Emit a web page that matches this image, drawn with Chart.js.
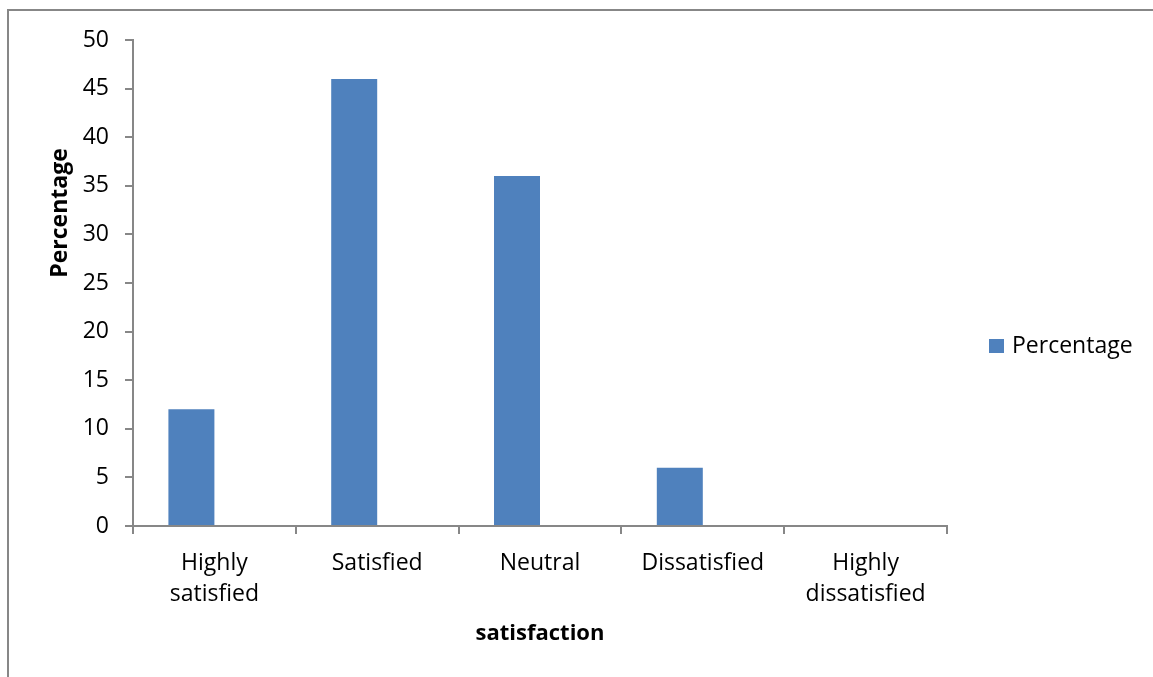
<!DOCTYPE html>
<html>
<head>
<meta charset="utf-8">
<script src="https://cdn.jsdelivr.net/npm/chart.js@4"></script>
<style>
  html, body { margin: 0; padding: 0; background: #fff; }
  #wrap { position: relative; width: 1153px; height: 677px; overflow: hidden; }
  #frame { position: absolute; left: 7px; top: 9px; width: 1200px; height: 700px;
           border-left: 2px solid #878787; border-top: 2px solid #878787; }
  canvas { position: absolute; left: 0; top: 0; }
</style>
</head>
<body>
<div id="wrap">
  <div id="frame"></div>
  <canvas id="chart" width="1153" height="677"></canvas>
</div>
<script>
// Survey results: share of respondents per satisfaction level
const categories = [
  ['Highly', 'satisfied'],
  'Satisfied',
  'Neutral',
  'Dissatisfied',
  ['Highly', 'dissatisfied']
];
const percentageValues = [12, 46, 36, 6, 0];
const blankValues = [0, 0, 0, 0, 0];   // empty companion series, keeps the bars left of centre
const yTicks = [0, 5, 10, 15, 20, 25, 30, 35, 40, 45, 50];

const seriesName = 'Percentage';
const xTitle = 'satisfaction';
const yTitle = 'Percentage';

const barColor = '#4F81BD';
const axisColor = '#878787';
const fontFamily = '"Open Sans", "Noto Sans", sans-serif';

// Axis titles and the legend, drawn beside the plot
const annotations = {
  id: 'annotations',
  afterDraw(chart) {
    const { ctx, chartArea } = chart;
    ctx.save();
    ctx.fillStyle = '#000';
    ctx.font = 'bold 22px ' + fontFamily;
    ctx.textAlign = 'center';
    ctx.textBaseline = 'middle';
    ctx.fillText(xTitle, (chartArea.left + chartArea.right) / 2, 634);

    ctx.save();
    ctx.translate(60, 213);
    ctx.rotate(-Math.PI / 2);
    ctx.font = 'bold 23px ' + fontFamily;
    ctx.fillText(yTitle, 0, 0);
    ctx.restore();

    ctx.fillStyle = barColor;
    ctx.fillRect(989, 339, 15, 14);
    ctx.fillStyle = '#000';
    ctx.font = '23px ' + fontFamily;
    ctx.textAlign = 'left';
    ctx.fillText(seriesName, 1012, 346);
    ctx.restore();
  }
};

new Chart(document.getElementById('chart'), {
  type: 'bar',
  data: {
    labels: categories,
    datasets: [
      { label: seriesName, data: percentageValues, backgroundColor: barColor,
        borderWidth: 0, barPercentage: 1, categoryPercentage: 0.565 },
      { label: '', data: blankValues, backgroundColor: 'rgba(0,0,0,0)',
        borderWidth: 0, barPercentage: 1, categoryPercentage: 0.565 }
    ]
  },
  options: {
    responsive: false,
    devicePixelRatio: 1,
    animation: false,
    layout: { padding: { left: 0, top: 40, right: 206, bottom: 0 } },
    plugins: { legend: { display: false }, tooltip: { enabled: false } },
    scales: {
      x: {
        offset: true,
        afterFit(scale) { scale.height = 151; },
        grid: { offset: true, drawOnChartArea: false, drawTicks: true, tickLength: 8,
                color: axisColor, lineWidth: 2 },
        border: { color: axisColor, width: 2 },
        ticks: { color: '#000', font: { family: fontFamily, size: 23, lineHeight: 1.35 },
                 padding: 14, maxRotation: 0, autoSkip: false }
      },
      y: {
        min: 0,
        max: 50,
        afterFit(scale) { scale.width = 133; },
        afterBuildTicks(scale) { scale.ticks = yTicks.map(v => ({ value: v })); },
        grid: { drawOnChartArea: false, drawTicks: true, tickLength: 8,
                color: axisColor, lineWidth: 2 },
        border: { color: axisColor, width: 2 },
        ticks: { color: '#000', font: { family: fontFamily, size: 23 }, padding: 16 }
      }
    }
  },
  plugins: [annotations]
});
</script>
</body>
</html>
